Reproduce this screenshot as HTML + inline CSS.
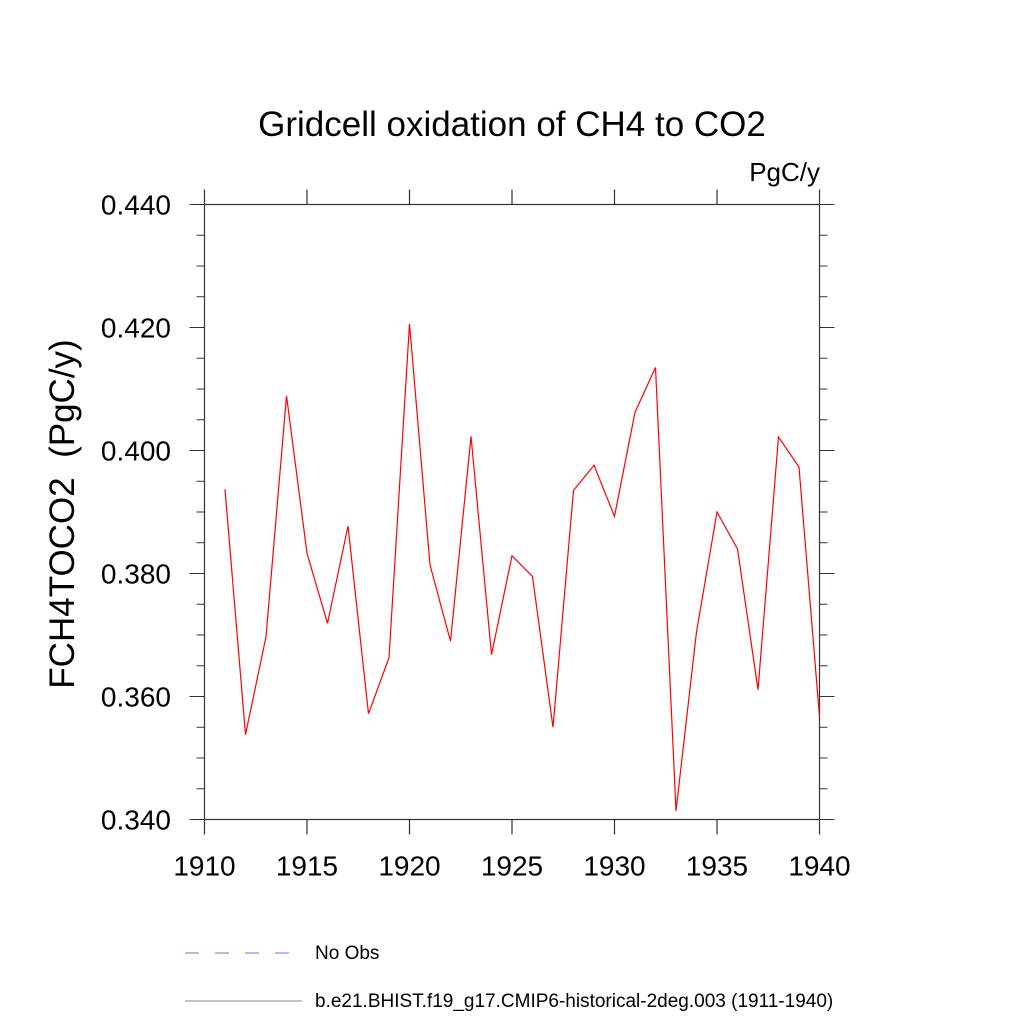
<!DOCTYPE html>
<html><head><meta charset="utf-8"><style>
html,body{margin:0;padding:0;background:#fff}
svg{display:block}
text{font-family:"Liberation Sans",sans-serif;fill:#000}
</style></head><body>
<svg id="chart" width="1024" height="1024" viewBox="0 0 1024 1024">
<text x="512" y="136" font-size="35" text-anchor="middle">Gridcell oxidation of CH4 to CO2</text>
<text x="820" y="181" font-size="26" text-anchor="end">PgC/y</text>
<text transform="translate(74,514) rotate(-90)" font-size="35" text-anchor="middle" xml:space="preserve" style="white-space:pre">FCH4TOCO2  (PgC/y)</text>
<g id="axes"></g>
<g id="series"></g>
<g>
<line x1="185" y1="953" x2="292" y2="953" stroke="#6b6bff" stroke-width="1" stroke-dasharray="14,16"/>
<text x="315" y="959" font-size="19">No Obs</text>
<line x1="185" y1="1001" x2="302" y2="1001" stroke="#888" stroke-width="1"/>
<text x="315" y="1007" font-size="19">b.e21.BHIST.f19_g17.CMIP6-historical-2deg.003 (1911-1940)</text>
</g>
</svg>
<script>
const years=[1911,1912,1913,1914,1915,1916,1917,1918,1919,1920,1921,1922,1923,1924,1925,1926,1927,1928,1929,1930,1931,1932,1933,1934,1935,1936,1937,1938,1939,1940];
const values=[0.3937,0.3538,0.3697,0.4089,0.3833,0.3719,0.3877,0.3572,0.3663,0.4206,0.3814,0.3690,0.4023,0.3668,0.3829,0.3795,0.3550,0.3935,0.3976,0.3893,0.4062,0.4135,0.3414,0.3705,0.3900,0.3840,0.3611,0.4022,0.3973,0.3567];
const xTicks=[1910,1915,1920,1925,1930,1935,1940];
const yTicks=[0.34,0.36,0.38,0.40,0.42,0.44];
const yTickLabels=["0.340","0.360","0.380","0.400","0.420","0.440"];
const X0=204.5,X1=819.5,Y0=819.5,Y1=204.5;
const xs=v=>X0+(v-1910)/(1940-1910)*(X1-X0);
const ys=v=>Y0-(v-0.34)/(0.44-0.34)*(Y0-Y1);
const NS="http://www.w3.org/2000/svg";
function mk(tag,attrs,parent){const e=document.createElementNS(NS,tag);for(const k in attrs)e.setAttribute(k,attrs[k]);parent.appendChild(e);return e;}
const ax=document.getElementById('axes');
const frame=mk('rect',{x:X0,y:Y1,width:X1-X0,height:Y0-Y1,fill:'none',stroke:'#333','stroke-width':1.2},ax);


xTicks.forEach(t=>{
  const x=xs(t);
  const a=mk('line',{x1:x,y1:Y0,x2:x,y2:Y0+15,stroke:'#333','stroke-width':1.2},ax);
  
  
  const b=mk('line',{x1:x,y1:Y1,x2:x,y2:Y1-15,stroke:'#333','stroke-width':1.2},ax);
  
  
  const l=mk('text',{x:x,y:Y0+56,'font-size':28,'text-anchor':'middle'},ax);
  l.textContent=t;
  
  
});
for(let v=0.34;v<=0.44001;v+=0.005){
  const major=Math.abs((v*100)%2)<0.01||Math.abs((v*100)%2-2)<0.01;
  const y=ys(v);const len=major?15:8;
  const a=mk('line',{x1:X0,y1:y,x2:X0-len,y2:y,stroke:'#333','stroke-width':1},ax);
  
  
  const b=mk('line',{x1:X1,y1:y,x2:X1+len,y2:y,stroke:'#333','stroke-width':1},ax);
  
  
}
yTicks.forEach((t,i)=>{
  const l=mk('text',{x:171,y:ys(t)+10,'font-size':28,'text-anchor':'end'},ax);
  l.textContent=yTickLabels[i];
  
  
});
const line=mk('polyline',{points:years.map((y,i)=>xs(y)+','+ys(values[i])).join(' '),fill:'none',stroke:'#ff0000','stroke-width':1.2},document.getElementById('series'));


</script>
</body></html>
